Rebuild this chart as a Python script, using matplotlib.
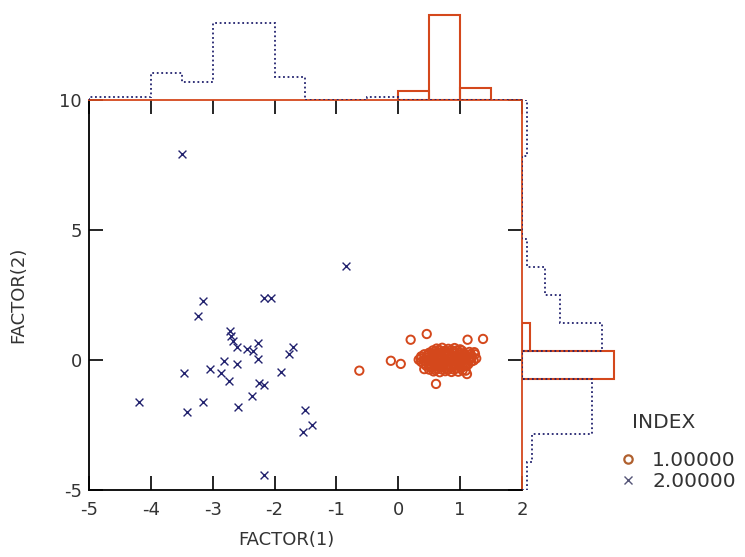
import matplotlib
matplotlib.use("Agg")
import matplotlib.pyplot as plt
import numpy as np
from matplotlib.lines import Line2D

plt.rcParams['font.family'] = ['DejaVu Sans']
plt.rcParams['axes.unicode_minus'] = False

# group INDEX = 2 (blue crosses)
blue_x = [-3.50, -0.85, -3.16, -3.24, -2.17, -2.06, -2.72, -2.70, -2.68, -2.60,
          -2.44, -2.35, -2.26, -2.27, -2.81, -3.05, -2.60, -3.46, -2.87, -2.73,
          -1.90, -1.76, -1.70, -2.25, -2.17, -2.37, -3.16, -4.19, -3.42, -2.59,
          -1.51, -1.39, -1.54, -2.17]
blue_y = [7.92, 3.63, 2.26, 1.71, 2.38, 2.38, 1.13, 0.94, 0.74, 0.49,
          0.42, 0.36, 0.65, 0.04, -0.03, -0.35, -0.15, -0.50, -0.50, -0.79,
          -0.47, 0.23, 0.49, -0.88, -0.96, -1.40, -1.60, -1.60, -2.01, -1.82,
          -1.91, -2.50, -2.78, -4.42]

# group INDEX = 1 (orange circles): loose points, then the dense clump row by row
orange_x = [-0.63, -0.12, 0.04, 0.20, 0.46, 0.61, 1.12, 1.37, 1.23, 1.09, 0.42, 1.11,
            0.62, 0.71, 0.81, 0.91, 1.00,
            0.56, 0.66, 0.76, 0.86, 0.95, 1.03,
            0.50, 0.59, 0.66, 0.75, 0.83, 0.90, 0.99, 1.06, 1.15,
            0.42, 0.50, 0.58, 0.67, 0.74, 0.82, 0.91, 0.99, 1.08, 1.17, 1.24,
            0.37, 0.46, 0.55, 0.62, 0.71, 0.78, 0.87, 0.95, 1.03, 1.11, 1.19,
            0.36, 0.46, 0.54, 0.63, 0.70, 0.79, 0.87, 0.94, 1.02, 1.10, 1.18, 1.26,
            0.33, 0.42, 0.51, 0.58, 0.67, 0.75, 0.83, 0.91, 0.98, 1.07, 1.14, 1.22,
            0.37, 0.45, 0.54, 0.62, 0.70, 0.78, 0.86, 0.95, 1.02, 1.10, 1.18,
            0.41, 0.49, 0.57, 0.65, 0.73, 0.81, 0.89, 0.96, 1.05, 1.13,
            0.45, 0.53, 0.61, 0.69, 0.77, 0.85, 0.93, 1.00, 1.09,
            0.53, 0.61, 0.69, 0.77, 0.85, 0.93, 1.01,
            0.50, 0.60, 0.70, 0.80, 0.90, 0.97, 1.04,
            0.57, 0.67, 0.76, 0.86]
orange_y = [-0.41, -0.03, -0.15, 0.78, 1.00, -0.92, 0.78, 0.81, 0.30, -0.41, -0.35, -0.54,
            0.44, 0.47, 0.43, 0.46, 0.41,
            0.37, 0.39, 0.36, 0.38, 0.37, 0.36,
            0.28, 0.32, 0.29, 0.31, 0.27, 0.33, 0.29, 0.26, 0.31,
            0.22, 0.21, 0.24, 0.22, 0.23, 0.21, 0.24, 0.22, 0.21, 0.23, 0.22,
            0.14, 0.17, 0.13, 0.16, 0.12, 0.17, 0.14, 0.16, 0.12, 0.15, 0.13,
            0.07, 0.08, 0.06, 0.09, 0.07, 0.06, 0.08, 0.07, 0.06, 0.08, 0.07, 0.06,
            0.01, -0.02, 0.03, -0.01, 0.02, -0.03, 0.01, -0.02, 0.03, -0.01, 0.02, -0.02,
            -0.07, -0.08, -0.06, -0.09, -0.07, -0.08, -0.06, -0.08, -0.07, -0.09, -0.06,
            -0.14, -0.17, -0.13, -0.16, -0.12, -0.17, -0.14, -0.16, -0.13, -0.17,
            -0.22, -0.24, -0.21, -0.23, -0.22, -0.24, -0.21, -0.23, -0.22,
            -0.29, -0.32, -0.28, -0.31, -0.29, -0.33, -0.30,
            -0.37, -0.39, -0.36, -0.38, -0.37, -0.45, -0.40,
            -0.44, -0.47, -0.43, -0.46]

# border histograms (bar lengths)
x_edges = np.arange(-5, 2.01, 0.5)
top_orange = [0, 0, 0, 0, 0, 0, 0, 0, 0, 0, 9, 85, 12, 0]
top_blue = [3, 3, 27, 18, 77, 77, 23, 0, 0, 3, 0, 0, 0, 0]
y_edges = np.linspace(-5, 10, 15)
right_orange = [0, 0, 0, 0, 92, 8, 0, 0, 0, 0, 0, 0, 0, 0]
right_blue = [5, 10, 70, 70, 0, 80, 38, 23, 5, 0, 0, 0, 5, 5]

ORANGE = '#d4481c'
NAVY = '#22226e'
TXT = '#333333'
W, H = 745, 557

fig = plt.figure(figsize=(W / 100, H / 100), dpi=100)
ax = fig.add_axes([89 / W, 1 - 490 / H, 433 / W, 390 / H])
axt = fig.add_axes([89 / W, 1 - 100 / H, 433 / W, 95 / H])
axr = fig.add_axes([522 / W, 1 - 490 / H, 118 / W, 390 / H])

ax.scatter(orange_x, orange_y, s=36, facecolors='none', edgecolors=ORANGE,
           linewidths=1.4, zorder=3)
ax.scatter(blue_x, blue_y, s=32, marker='x', color=NAVY, linewidths=1.0, zorder=3)

ax.set_xlim(-5, 2)
ax.set_ylim(-5, 10)
ax.set_xticks(range(-5, 3))
ax.set_yticks([-5, 0, 5, 10])
ax.tick_params(direction='in', length=10, width=1.2, top=True, right=True,
               labelsize=13, labelcolor=TXT)
ax.tick_params(axis='x', pad=8)
ax.tick_params(axis='y', pad=5)
ax.spines['top'].set_color(ORANGE)
ax.spines['right'].set_color(ORANGE)
for s in ax.spines.values():
    s.set_linewidth(1.3)

# top histogram on FACTOR(1)
for i, h in enumerate(top_orange):
    if h > 0:
        axt.bar(x_edges[i], h, width=0.5, align='edge', fill=False,
                edgecolor=ORANGE, linewidth=1.5)
axt.stairs(top_blue, x_edges, color=NAVY, linestyle=(0, (1, 1.5)), linewidth=1.3)
axt.set_xlim(-5, 2)
axt.set_ylim(0, 95)
axt.axis('off')

# right histogram on FACTOR(2)
for i, h in enumerate(right_orange):
    if h > 0:
        axr.barh(y_edges[i], h, height=y_edges[1] - y_edges[0], align='edge',
                 fill=False, edgecolor=ORANGE, linewidth=1.5)
axr.stairs(right_blue, y_edges, orientation='horizontal', color=NAVY,
           linestyle=(0, (1, 1.5)), linewidth=1.3)
axr.set_ylim(-5, 10)
axr.set_xlim(0, 118)
axr.axis('off')

fig.text(286 / W, 1 - 540 / H, 'FACTOR(1)', ha='center', va='center',
         fontsize=13, color=TXT)
fig.text(18 / W, 1 - 295 / H, 'FACTOR(2)', ha='center', va='center',
         rotation=90, fontsize=13, color=TXT)

fig.text(632 / W, 1 - 422 / H, 'INDEX', ha='left', va='center',
         fontsize=14.5, color=TXT)
handles = [Line2D([], [], linestyle='none', marker='o', markersize=6,
                  markerfacecolor='none', markeredgecolor='#b0602e', markeredgewidth=1.6),
           Line2D([], [], linestyle='none', marker='x', markersize=6,
                  color='#555577', markeredgewidth=1.0)]
fig.legend(handles, ['1.00000', '2.00000'], loc='upper left',
           bbox_to_anchor=(618 / W, 1 - 451 / H), frameon=False, fontsize=14.5,
           borderpad=0, borderaxespad=0, handlelength=1.0,
           handletextpad=0.7, labelspacing=0.1, labelcolor=TXT)

fig.savefig('out.png', dpi=100)
